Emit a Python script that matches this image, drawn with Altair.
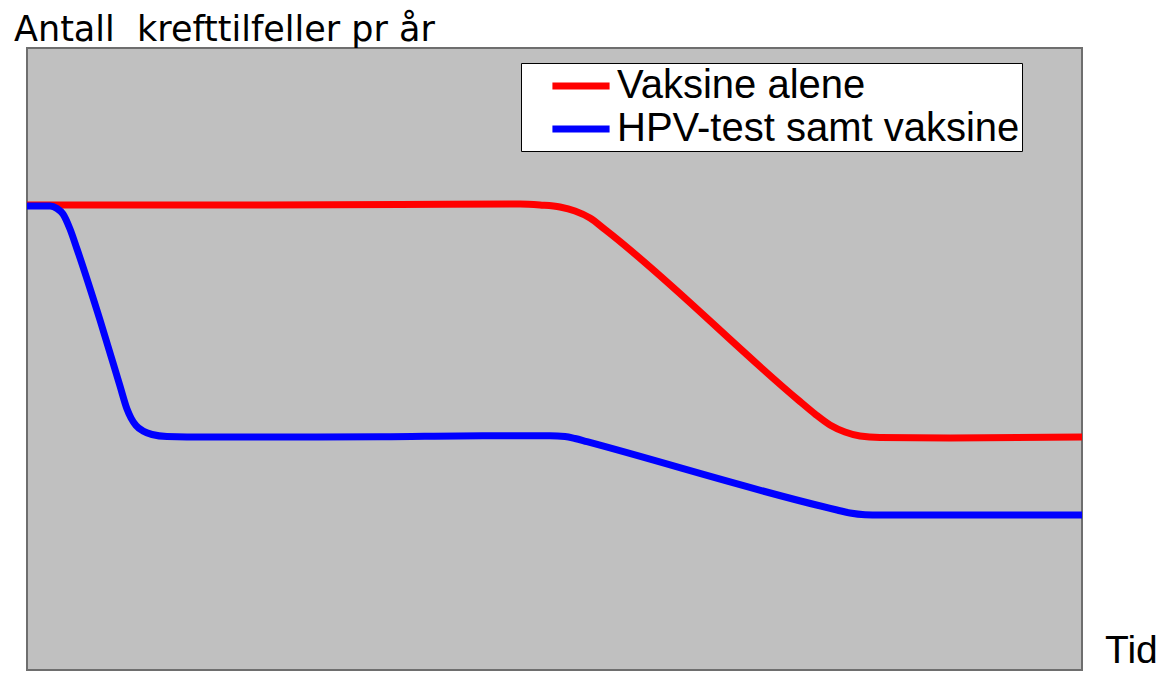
import altair as alt
import pandas as pd

# Series readings (arbitrary time units 0..1055, arbitrary incidence units 0..622)
red_name = "Vaksine alene"
red_x = [0, 173, 373, 493, 513, 533, 548, 563, 578, 773, 788, 803, 818, 833, 853, 923, 1055]
red_y = [465, 465, 465.5, 466, 465, 463, 459, 452, 440.5, 268.5, 256, 245, 238, 234, 232.5, 232, 233]

blue_name = "HPV-test samt vaksine"
blue_x = [0, 23, 30, 36, 43, 50, 73, 93, 100, 104, 109, 116, 125, 140, 180, 290, 356, 456, 523, 538, 548, 560, 810, 823, 838, 853, 1055]
blue_y = [464, 464, 461.5, 456, 441, 421, 350, 284, 261, 252, 244.5, 239, 235.5, 233.5, 233, 233, 233.3, 234.3, 234.3, 233.5, 231.5, 228.3, 160, 157, 155.3, 155, 155]

title_text = "Antall\u00a0 krefttilfeller pr år"
x_label = "Tid"

rows = []
for i, (x, y) in enumerate(zip(red_x, red_y)):
    rows.append({"serie": red_name, "t": x, "v": y, "o": i})
for i, (x, y) in enumerate(zip(blue_x, blue_y)):
    rows.append({"serie": blue_name, "t": x, "v": y, "o": i})
df = pd.DataFrame(rows)

W, H = 1055, 622

lines = alt.Chart(df).mark_line(
    strokeWidth=7, interpolate="monotone", clip=True, strokeCap="round"
).encode(
    x=alt.X("t:Q", axis=None, scale=alt.Scale(domain=[0, 1055], nice=False, zero=False)),
    y=alt.Y("v:Q", axis=None, scale=alt.Scale(domain=[0, 622], nice=False, zero=False)),
    order="o:Q",
    color=alt.Color(
        "serie:N",
        scale=alt.Scale(domain=[red_name, blue_name], range=["#FF0000", "#0000FF"]),
        sort=[red_name, blue_name],
        legend=alt.Legend(
            orient="none", legendX=494, legendY=15, title=None,
            fillColor="white", strokeColor="black", padding=2,
            symbolType="M-1.65,0H1.65", symbolSize=1200, symbolStrokeWidth=7,
            labelFontSize=40, labelFont="Liberation Sans", labelColor="black",
            labelOffset=15, symbolOffset=37, rowPadding=2, labelLimit=1000,
        ),
    ),
)

title = alt.Chart(pd.DataFrame({"txt": [title_text]})).mark_text(
    align="left", baseline="alphabetic", font="DejaVu Sans", fontSize=35, color="black", clip=False
).encode(x=alt.value(-13), y=alt.value(-7), text="txt:N")

tid = alt.Chart(pd.DataFrame({"txt": [x_label]})).mark_text(
    align="left", baseline="alphabetic", font="Liberation Sans", fontSize=39, color="black", clip=False
).encode(x=alt.value(1078), y=alt.value(615), text="txt:N")

chart = alt.layer(lines, title, tid).properties(
    width=W, height=H,
    background="white",
    autosize=alt.AutoSizeParams(type="none"),
    padding={"left": 19, "top": 40, "right": 76, "bottom": 1},
).configure_view(
    fill="#C0C0C0", stroke="#6e6e6e", strokeWidth=2
)

chart.save("out.html", embed_options={"renderer": "svg", "actions": False})
